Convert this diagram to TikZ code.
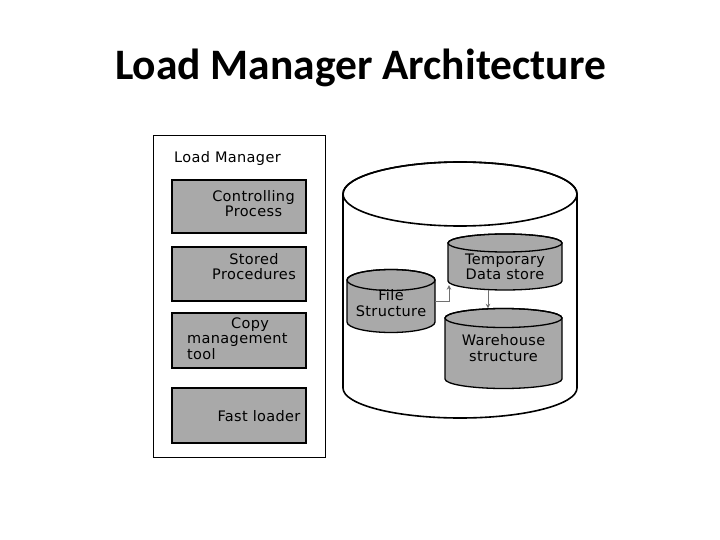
\documentclass[tikz,border=0pt]{standalone}
\usepackage{fontspec}
\setmainfont{DejaVu Sans}
\newfontfamily\boxfont[LetterSpace=2.5]{DejaVu Sans}
\newfontfamily\titlefont{Carlito}
\usetikzlibrary{arrows.meta,positioning,calc}
\definecolor{lmGray}{HTML}{A9A9A9}
\definecolor{lmLine}{HTML}{707070}
\tikzset{
  mgrframe/.style={draw, line width=1.4pt, fill=white, inner sep=0pt},
  mgrbox/.style={draw, line width=1.3pt, fill=lmGray, minimum width=134pt, inner sep=0pt},
  boxtext/.style={font=\boxfont\fontsize{14.5}{15.5}\selectfont, align=center, inner sep=0pt},
  drumbody/.style={draw, line width=1.3pt, fill=lmGray},
  bigdrum/.style={draw, line width=1.6pt, fill=white},
  flowline/.style={-{Stealth[length=4.5pt,width=4.5pt]}, lmLine, line width=0.9pt},
  titletext/.style={font=\titlefont\bfseries\fontsize{43.5}{50}\selectfont, inner sep=0pt}
}
% gray drum: name, cx, top, bottom, rx, ry, text y, text
\newcommand{\drum}[8]{%
  \path[drumbody] (#2-#5,-#3) -- (#2-#5,-#4)
    arc[start angle=180, end angle=360, x radius=#5, y radius=#6]
    -- (#2+#5,-#3)
    arc[start angle=0, end angle=180, x radius=#5, y radius=#6] -- cycle;
  \draw[line width=1.3pt] (#2,-#3) ellipse[x radius=#5, y radius=#6];
  \node[minimum width=2*#5, minimum height=#4-#3+2*#6, inner sep=0pt] (#1) at (#2,-#3/2-#4/2) {};
  \node[boxtext] (#1t) at (#2,-#7) {#8};
}

\begin{document}
\begin{tikzpicture}[x=1pt, y=1pt]
  \fill[white] (0,0) rectangle (720,-540);
  \useasboundingbox (0,0) rectangle (720,-540);

  \node[titletext, anchor=base] (title) at (360.5,-80) {Load Manager Architecture};

  % load manager
  \node[mgrframe, minimum width=172pt, minimum height=322pt, anchor=north west] (mgr) at (153,-135) {};
  \node[boxtext, anchor=west] (mgrlabel) at (174,-159) {Load Manager};
  \node[mgrbox, minimum height=53pt] (ctrl) at (239,-206.5) {};
  \node[boxtext] (ctrlt) at (253.5,-203.5) {Controlling\\Process};
  \node[mgrbox, minimum height=54pt] (stor) at (239,-274) {};
  \node[boxtext] (stort) at (254,-266.5) {Stored\\Procedures};
  \node[mgrbox, minimum height=55pt] (copy) at (239,-340.5) {};
  \node[boxtext, align=left, anchor=west] (copyt) at (187,-338.5) {\hspace*{44pt}Copy\\management\\tool};
  \node[mgrbox, minimum height=55pt] (fast) at (239,-415.5) {};
  \node[boxtext] (fastt) at (259,-416) {Fast loader};

  % warehouse store
  \path[bigdrum] (343,-194) -- (343,-388)
    arc[start angle=180, end angle=360, x radius=117, y radius=30]
    -- (577,-194)
    arc[start angle=0, end angle=180, x radius=117, y radius=32] -- cycle;
  \draw[line width=1.6pt] (460,-194) ellipse[x radius=117, y radius=32];

  \drum{fs}{391}{280}{322}{44}{10.5}{303}{File\\Structure}
  \drum{tds}{505}{243}{281}{57}{9}{267}{Temporary\\Data store}
  \drum{wh}{503.5}{318}{379}{58.5}{9.5}{348}{Warehouse\\structure}

  \draw[flowline] (fs.east) -| ([shift={(-56pt,5pt)}]tds.south);
  \draw[flowline] ([xshift=-17pt]tds.south) -- ([xshift=-15.5pt]wh.north);
\end{tikzpicture}
\end{document}
